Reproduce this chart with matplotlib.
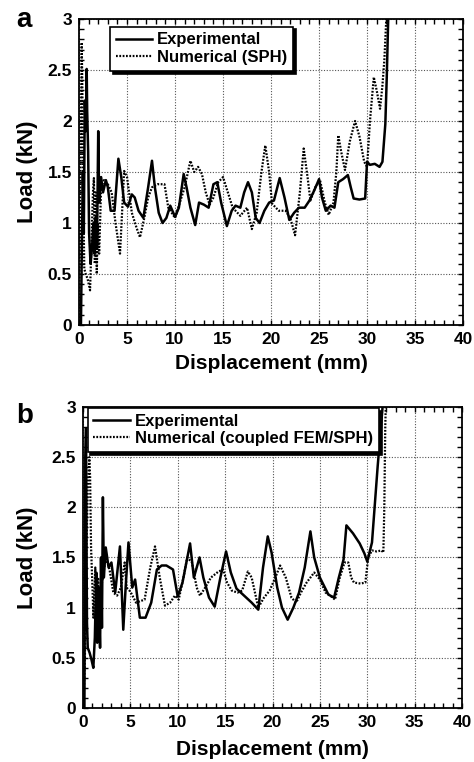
import matplotlib
matplotlib.use("Agg")
import matplotlib.pyplot as plt
from matplotlib.ticker import MultipleLocator

plt.rcParams['font.family'] = ['Liberation Sans', 'DejaVu Sans']
plt.rcParams['font.weight'] = 'bold'

# ── data: panel a ────────────────────────────────────────────────────────────
a_exp_x = [0.2, 0.3, 0.4, 0.5, 0.6, 0.7, 0.8, 0.85, 0.95, 1.05, 1.2, 1.35, 1.5, 1.6,
           1.7, 1.8, 1.9, 2.0, 2.1, 2.3, 2.5, 2.8, 3.0, 3.3, 3.7, 4.1, 4.4, 4.7, 5.1,
           5.5, 5.8, 6.2, 6.7, 7.2, 7.6, 7.9, 8.3, 8.7, 9.1, 9.5, 10.0, 10.4, 10.9,
           11.2, 11.6, 12.1, 12.5, 13.0, 13.5, 14.0, 14.4, 14.8, 15.4, 15.9, 16.3,
           16.8, 17.2, 17.6, 18.0, 18.4, 18.8, 19.3, 19.8, 20.3, 20.9, 21.4, 21.9,
           22.4, 22.9, 23.5, 24.0, 24.5, 25.0, 25.3, 25.7, 26.2, 26.6, 27.0, 27.5,
           28.0, 28.3, 28.6, 29.2, 29.8, 30.0, 30.3, 30.8, 31.3, 31.6, 31.9, 32.05,
           32.2, 32.3]
a_exp_y = [0.0, 0.8, 1.5, 0.9, 2.2, 1.9, 2.51, 2.1, 1.7, 0.9, 0.6, 0.75, 1.0, 0.7,
           1.05, 0.75, 1.0, 1.9, 1.2, 1.45, 1.3, 1.42, 1.35, 1.12, 1.12, 1.63, 1.45,
           1.2, 1.16, 1.28, 1.25, 1.12, 1.05, 1.35, 1.61, 1.35, 1.1, 1.0, 1.05, 1.17,
           1.06, 1.15, 1.48, 1.35, 1.15, 0.98, 1.2, 1.18, 1.15, 1.38, 1.40, 1.2, 0.97,
           1.12, 1.17, 1.15, 1.3, 1.40, 1.3, 1.05, 1.0, 1.12, 1.2, 1.22, 1.44, 1.25,
           1.03, 1.1, 1.15, 1.15, 1.22, 1.32, 1.43, 1.25, 1.12, 1.17, 1.15, 1.40,
           1.43, 1.47, 1.35, 1.24, 1.23, 1.24, 1.6, 1.57, 1.58, 1.55, 1.6, 1.97, 2.43,
           3.0, 3.2]

a_num_x = [0.0, 0.1, 0.2, 0.28, 0.35, 0.45, 0.55, 0.7, 0.9, 1.15, 1.3, 1.45, 1.55,
           1.65, 1.75, 1.85, 1.95, 2.1, 2.3, 2.6, 3.0, 3.4, 3.8, 4.27, 4.7, 5.0, 5.5,
           6.0, 6.35, 6.8, 7.2, 7.6, 8.2, 8.9, 9.3, 10.0, 10.5, 11.0, 11.6, 12.0,
           12.4, 12.8, 13.2, 13.6, 14.0, 14.5, 15.0, 15.5, 16.0, 16.8, 17.5, 18.0,
           18.5, 19.0, 19.4, 19.8, 20.1, 20.8, 21.5, 22.0, 22.5, 23.0, 23.4, 23.8,
           24.1, 24.6, 25.1, 25.6, 26.0, 26.5, 26.8, 27.0, 27.3, 27.7, 28.2, 28.75,
           29.2, 29.7, 30.0, 30.3, 30.7, 31.0, 31.35, 31.6, 31.8, 32.0, 32.1]
a_num_y = [0.0, 0.9, 2.0, 2.77, 2.3, 1.2, 0.55, 0.5, 0.45, 0.34, 0.8, 1.3, 1.44,
           0.6, 1.3, 0.5, 1.0, 0.7, 1.35, 1.42, 1.38, 1.3, 1.0, 0.70, 1.51, 1.45, 1.1,
           0.95, 0.86, 1.05, 1.25, 1.35, 1.38, 1.38, 1.15, 1.05, 1.2, 1.35, 1.61, 1.5,
           1.55, 1.48, 1.3, 1.18, 1.25, 1.40, 1.45, 1.3, 1.15, 1.07, 1.15, 0.94, 1.1,
           1.5, 1.76, 1.5, 1.19, 1.12, 1.12, 1.05, 0.88, 1.3, 1.73, 1.45, 1.22, 1.35,
           1.42, 1.2, 1.08, 1.2, 1.5, 1.86, 1.7, 1.52, 1.8, 2.0, 1.85, 1.6, 1.55, 2.0,
           2.43, 2.3, 2.12, 2.35, 2.6, 3.0, 3.2]

# ── data: panel b ────────────────────────────────────────────────────────────
b_exp_x = [0.15, 0.2, 0.25, 0.32, 0.38, 0.42, 0.5, 0.7, 0.9, 1.09, 1.25, 1.4, 1.5,
           1.65, 1.8, 1.9, 2.0, 2.1, 2.2, 2.4, 2.7, 3.0, 3.4, 3.9, 4.25, 4.5, 4.8,
           5.2, 5.5, 6.0, 6.6, 7.2, 7.8, 8.3, 8.8, 9.5, 10.0, 10.5, 11.3, 11.7, 12.3,
           12.7, 13.3, 13.9, 14.5, 15.1, 15.6, 16.2, 17.0, 17.8, 18.5, 19.0, 19.5,
           19.9, 20.5, 21.0, 21.6, 22.2, 22.8, 23.4, 24.0, 24.4, 25.0, 25.9, 26.5,
           27.0, 27.5, 27.8, 28.5, 29.2, 29.7, 30.0, 30.5, 31.1, 31.6, 31.7]
b_exp_y = [0.0, 1.5, 2.5, 2.79, 1.5, 0.85, 0.6, 0.55, 0.48, 0.40, 0.7, 1.35, 0.65,
           1.2, 0.6, 1.5, 0.8, 2.1, 1.3, 1.6, 1.4, 1.45, 1.15, 1.61, 0.78, 1.2, 1.65,
           1.2, 1.28, 0.9, 0.9, 1.05, 1.38, 1.42, 1.42, 1.38, 1.11, 1.25, 1.64, 1.3,
           1.5, 1.3, 1.1, 1.01, 1.3, 1.56, 1.35, 1.19, 1.12, 1.05, 0.98, 1.4, 1.71,
           1.55, 1.2, 1.0, 0.88, 1.0, 1.15, 1.4, 1.76, 1.5, 1.3, 1.13, 1.1, 1.3, 1.48,
           1.82, 1.74, 1.64, 1.54, 1.46, 1.65, 2.41, 2.98, 3.2]

b_num_x = [0.05, 0.2, 0.35, 0.5, 0.67, 0.75, 0.85, 1.0, 1.1, 1.3, 1.45, 1.6, 1.75,
           1.9, 2.1, 2.4, 2.8, 3.2, 3.6, 4.0, 4.4, 4.6, 5.0, 5.6, 6.5, 7.1, 7.6, 8.1,
           8.65, 9.2, 9.7, 10.1, 10.6, 11.0, 11.5, 12.0, 12.35, 12.9, 13.5, 14.3,
           14.8, 15.2, 15.7, 16.3, 16.8, 17.4, 17.8, 18.5, 19.1, 19.7, 20.3, 20.8,
           21.4, 22.0, 22.5, 23.0, 23.6, 24.4, 25.0, 25.6, 26.1, 26.6, 27.1, 27.6,
           28.0, 28.3, 28.6, 29.3, 29.8, 30.1, 30.5, 31.0, 31.5, 31.7, 31.8, 31.9,
           32.0]
b_num_y = [0.0, 0.5, 1.5, 2.2, 2.5, 2.3, 1.6, 1.2, 0.9, 1.4, 0.75, 1.3, 0.8, 1.2,
           1.3, 1.5, 1.38, 1.15, 1.12, 1.2, 1.45, 1.2, 1.16, 1.05, 1.08, 1.4, 1.61,
           1.3, 1.02, 1.05, 1.12, 1.08, 1.3, 1.5, 1.45, 1.2, 1.12, 1.2, 1.3, 1.36,
           1.38, 1.25, 1.17, 1.15, 1.17, 1.36, 1.3, 1.0, 1.1, 1.17, 1.3, 1.42, 1.3,
           1.1, 1.05, 1.15, 1.25, 1.35, 1.28, 1.15, 1.12, 1.08, 1.3, 1.45, 1.45, 1.3,
           1.25, 1.24, 1.25, 1.5, 1.57, 1.56, 1.57, 1.55, 2.0, 2.8, 3.2]

x_ticks = [0, 5, 10, 15, 20, 25, 30, 35, 40]
y_ticks = [0, 0.5, 1, 1.5, 2, 2.5, 3]
y_tick_labels = ['0', '0.5', '1', '1.5', '2', '2.5', '3']

# tag, exp x/y, num x/y, numerical label, axes rect, tag pos, legend anchor,
# ylabel x, xlabel y (axes fraction)
panels = [
    ('a', a_exp_x, a_exp_y, a_num_x, a_num_y, 'Numerical (SPH)',
     [0.1667, 0.5735, 0.8103, 0.4016], (0.034, 0.9646), (0.08, 0.975), -0.108, -0.095),
    ('b', b_exp_x, b_exp_y, b_num_x, b_num_y, 'Numerical (coupled FEM/SPH)',
     [0.1751, 0.0709, 0.7996, 0.3950], (0.034, 0.4449), (0.012, 0.997), -0.12, -0.105),
]

fig = plt.figure(figsize=(4.74, 7.62), dpi=100)

for tag, ex, ey, nx, ny, nlabel, rect, tagpos, legpos, ylx, xly in panels:
    ax = fig.add_axes(rect)
    ax.plot(ex, ey, color='black', lw=1.8, label='Experimental')
    ax.plot(nx, ny, color='black', lw=1.6, ls=(0, (0.8, 0.7)), label=nlabel)

    ax.set_xlim(0, 40)
    ax.set_ylim(0, 3)
    ax.set_xticks(x_ticks)
    ax.set_yticks(y_ticks)
    ax.set_yticklabels(y_tick_labels)
    ax.xaxis.set_minor_locator(MultipleLocator(1))
    ax.yaxis.set_minor_locator(MultipleLocator(0.1))
    ax.tick_params(which='both', direction='in', top=True, right=True,
                   length=3.5, width=1, labelsize=12.5, pad=5)
    ax.grid(True, which='major', color='#555555', ls=(0, (1, 1.5)), lw=0.8)
    for s in ax.spines.values():
        s.set_linewidth(1.3)

    ax.set_xlabel('Displacement (mm)', fontsize=15, fontweight='bold')
    ax.xaxis.set_label_coords(0.5, xly)
    ax.set_ylabel('Load (kN)', fontsize=16, fontweight='bold')
    ax.yaxis.set_label_coords(ylx, 0.5)

    leg = ax.legend(loc='upper left', bbox_to_anchor=legpos, fontsize=12,
                    frameon=True, fancybox=False, shadow={'color': 'black', 'alpha': 1},
                    borderpad=0.35, handlelength=2.2, handletextpad=0.3,
                    labelspacing=0.15, borderaxespad=0)
    leg.get_frame().set_edgecolor('black')
    leg.get_frame().set_linewidth(1.2)

    fig.text(tagpos[0], tagpos[1], tag, fontsize=20, fontweight='bold',
             ha='left', va='baseline')

fig.savefig('out.png', dpi=100)
